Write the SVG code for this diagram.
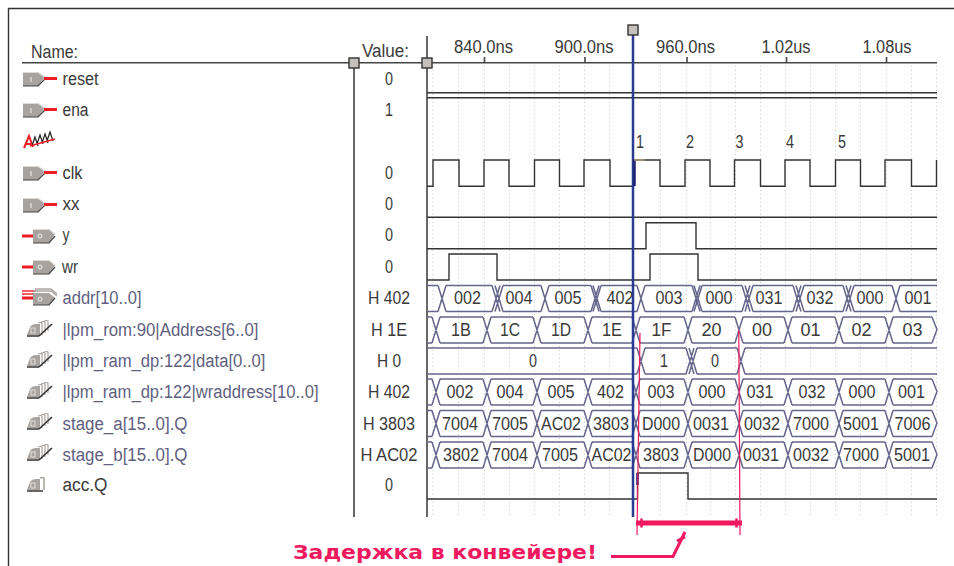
<svg xmlns="http://www.w3.org/2000/svg" width="954" height="566" viewBox="0 0 954 566">
<style>
text{font-family:"Liberation Sans",Arial,sans-serif;font-size:18px;fill:#3a3a3a}
.s{fill:#5f5f80}
.v{text-anchor:middle}
.t{text-anchor:middle}
.w{fill:none;stroke:#333;stroke-width:1.4}
.b{fill:none;stroke:#66668c;stroke-width:1.5}
.g{fill:none;stroke:#c9c9c9;stroke-width:1;stroke-dasharray:1 3}
.a{fill:none;stroke:#444;stroke-width:1.6}
.r{fill:none;stroke:#f0185e;stroke-width:1.2}
.h{fill:#c4c0bc;stroke:#333;stroke-width:1.4}
</style>
<defs>
<g id="pin-in"><path d="M0 -7H15L22 -2L15 7H0z" fill="#a8a39e"/><path d="M0 -6.500H15L21 -2" fill="none" stroke="#dedad6"/><path d="M0 7H15L22 0" fill="none" stroke="#444" stroke-width="1.200"/><path d="M21 -.5H34" stroke="#ee1c25" stroke-width="3"/><path d="M8 -2V3" stroke="#eee"/></g>
<g id="pin-out"><path d="M0 0H11" stroke="#ee1c25" stroke-width="3"/><path d="M11 -7H27L33 -2L27 7H11z" fill="#a8a39e"/><path d="M11 -6.500H27L32 -2" fill="none" stroke="#dedad6"/><path d="M11 7H27L33 0" fill="none" stroke="#444" stroke-width="1.200"/><circle cx="18" cy="0" r="2" fill="none" stroke="#eee"/></g>
<g id="pin-bus"><path d="M0 -7H14M0 -4H12" stroke="#ee1c25" stroke-width="2" opacity=".7"/><path d="M0 0H11" stroke="#ee1c25" stroke-width="3"/><path d="M13 -9H29L35 -4M11 -7H29L35 -2" fill="none" stroke="#aaa6a2" stroke-width="1.400"/><path d="M11 -5H27L33 0L27 7H11z" fill="#a8a39e"/><path d="M11 7H27L33 0" fill="none" stroke="#444" stroke-width="1.200"/><circle cx="18" cy="1" r="2" fill="none" stroke="#eee"/></g>
<g id="bur"><path d="M0 6L3 -2Q5 -5 9 -5H13V6z" fill="#a8a39e"/><path d="M0 7H12" stroke="#333" stroke-width="1.500"/><rect x="4" y="-1" width="4" height="5" fill="none" stroke="#eee" stroke-width=".8"/><path d="M11 -6Q14 -7 15 -6V6M14 -7Q17 -8 18 -7V4M17 -8Q20 -9 21 -8V2" fill="none" stroke="#a8a39e" stroke-width="1.200"/><path d="M12 7L25 -5" stroke="#333" stroke-width="1.600"/></g>
<g id="bur1"><path d="M0 6L3 -2Q5 -5 9 -5H13V6z" fill="#a8a39e"/><path d="M0 7H16" stroke="#333" stroke-width="1.500"/><rect x="4" y="-1" width="4" height="5" fill="none" stroke="#eee" stroke-width=".8"/><path d="M13 -6Q16 -7 17 -6V6" fill="none" stroke="#a8a39e" stroke-width="1.600"/></g>
<path id="bus" class="b" d="M427 .5H432M427 26.5H432M432 .5L440 26.5M432 26.5L440 .5M440 .5H483M440 26.5H483M483 .5L491 26.5M483 26.5L491 .5M491 .5H533M491 26.5H533M533 .5L541 26.5M533 26.5L541 .5M541 .5H584M541 26.5H584M584 .5L592 26.5M584 26.5L592 .5M592 .5H632M592 26.5H632M632 .5L640 26.5M632 26.5L640 .5M640 .5H684M640 26.5H684M684 .5L692 26.5M684 26.5L692 .5M692 .5H735M692 26.5H735M735 .5L743 26.5M735 26.5L743 .5M743 .5H784M743 26.5H784M784 .5L792 26.5M784 26.5L792 .5M792 .5H835M792 26.5H835M835 .5L843 26.5M835 26.5L843 .5M843 .5H885M843 26.5H885M885 .5L893 26.5M885 26.5L893 .5M893 .5H932M893 26.5H932M932 .5L937 13L932 26.5"/>
</defs>
<path d="M954 8.500H8.500V566" stroke="#333" stroke-width="1.400" fill="none"/>

<g id="grid"><path class="g" d="M433 66V516M458.500 66V516M484.500 66V516M509.500 66V516M534.500 66V516M559.500 66V516M584.500 66V516M609.500 66V516M660.500 66V516M686.500 66V516M710.500 66V516M735.500 66V516M760.500 66V516M785.500 66V516M810.500 66V516M835.500 66V516M860.500 66V516M886.500 66V516M911.500 66V516M936.500 66V516"/></g>

<g id="header">
<text x="31" y="58" textLength="47" lengthAdjust="spacingAndGlyphs">Name:</text>
<text x="362" y="57" textLength="47" lengthAdjust="spacingAndGlyphs">Value:</text>
<path class="a" d="M22 62.700H937M354 63V517M427 36V517"/>
<path class="a" d="M484.500 57V63M585 57V63M687 57V63M786.500 57V63M886.500 57V63"/>
<text class="t" x="483.500" y="53" textLength="59" lengthAdjust="spacingAndGlyphs">840.0ns</text>
<text class="t" x="584" y="53" textLength="59" lengthAdjust="spacingAndGlyphs">900.0ns</text>
<text class="t" x="685.500" y="53" textLength="59" lengthAdjust="spacingAndGlyphs">960.0ns</text>
<text class="t" x="786" y="53" textLength="49" lengthAdjust="spacingAndGlyphs">1.02us</text>
<text class="t" x="887" y="53" textLength="49" lengthAdjust="spacingAndGlyphs">1.08us</text>
<rect class="h" x="349" y="58" width="10" height="10"/>
<rect class="h" x="422" y="58" width="10" height="10"/>
</g>

<g id="node-reset"><use href="#pin-in" x="23" y="79"/><text x="62.500" y="85" textLength="36" lengthAdjust="spacingAndGlyphs">reset</text><text class="v" x="389" y="85" textLength="8" lengthAdjust="spacingAndGlyphs">0</text><path class="w" d="M427 92.700H937"/></g>
<g id="node-ena"><use href="#pin-in" x="23" y="110"/><text x="62.500" y="116" textLength="26" lengthAdjust="spacingAndGlyphs">ena</text><text class="v" x="389" y="116" textLength="8" lengthAdjust="spacingAndGlyphs">1</text><path class="w" d="M427 97.700H937"/></g>
<g id="node-markers"><path d="M24 148L29 136L33 147M26 144H31" fill="none" stroke="#ee1c25" stroke-width="2"/><path d="M32 146L35 137L38 146M37 144L40 135L43 144M42 143L45 134L48 143M47 141L50 132L53 141" fill="none" stroke="#222" stroke-width="1.200"/><path d="M30 146L55 139" stroke="#ee1c25" stroke-width="1.400"/>
<text class="v" x="640" y="148" textLength="8" lengthAdjust="spacingAndGlyphs">1</text><text class="v" x="690" y="148" textLength="8" lengthAdjust="spacingAndGlyphs">2</text><text class="v" x="739.500" y="148" textLength="8" lengthAdjust="spacingAndGlyphs">3</text><text class="v" x="790" y="148" textLength="8" lengthAdjust="spacingAndGlyphs">4</text><text class="v" x="842" y="148" textLength="8" lengthAdjust="spacingAndGlyphs">5</text></g>
<g id="node-clk"><use href="#pin-in" x="23" y="173"/><text x="62.500" y="179" textLength="20" lengthAdjust="spacingAndGlyphs">clk</text><text class="v" x="389" y="179" textLength="8" lengthAdjust="spacingAndGlyphs">0</text>
<path class="w" d="M427 186.300H433V160H459V186.300H484V160H509V186.300H534.500V160H559.500V186.300H584V160H610V186.300H633.500V160H660V186.300H685V160H710V186.300H734.500V160H760.500V186.300H785V160H810V186.300H835.500V160H860.500V186.300H885V160H911.500V186.300H936.500V160"/></g>
<g id="node-xx"><use href="#pin-in" x="23" y="205"/><text x="62.500" y="210" textLength="17" lengthAdjust="spacingAndGlyphs">xx</text><text class="v" x="389" y="210" textLength="8" lengthAdjust="spacingAndGlyphs">0</text><path class="w" d="M427 217.300H937"/></g>
<g id="node-y"><use href="#pin-out" x="22" y="236"/><text x="62.500" y="241" textLength="7" lengthAdjust="spacingAndGlyphs">y</text><text class="v" x="389" y="241" textLength="8" lengthAdjust="spacingAndGlyphs">0</text><path class="w" d="M427 248.700H646V222.700H696V248.700H937"/></g>
<g id="node-wr"><use href="#pin-out" x="22" y="267"/><text x="62" y="273" textLength="16" lengthAdjust="spacingAndGlyphs">wr</text><text class="v" x="389" y="273" textLength="8" lengthAdjust="spacingAndGlyphs">0</text><path class="w" d="M427 280H449V254H497V280H650V254H698V280H937"/></g>

<g id="node-addr"><use href="#pin-bus" x="22" y="298"/><text class="s" x="62.500" y="304" textLength="79" lengthAdjust="spacingAndGlyphs">addr[10..0]</text><text class="v" x="389" y="304" textLength="42" lengthAdjust="spacingAndGlyphs">H 402</text>
<path class="b" d="M427 285.500H438M427 311.500H438M438 285.500L446 311.500M438 311.500L446 285.500M446 285.500H492M446 311.500H492M492 285.500L500 311.500M492 311.500L500 285.500M495 285.500L503 311.500M495 311.500L503 285.500M503 285.500H541M503 311.500H541M541 285.500L549 311.500M541 311.500L549 285.500M549 285.500H591M549 311.500H591M591 285.500L599 311.500M591 311.500L599 285.500M593 285.500L601 311.500M593 311.500L601 285.500M601 285.500H637M601 311.500H637M637 285.500L645 311.500M637 311.500L645 285.500M645 285.500H692M645 311.500H692M692 285.500L700 311.500M692 311.500L700 285.500M694 285.500L702 311.500M694 311.500L702 285.500M702 285.500H742M702 311.500H742M742 285.500L750 311.500M742 311.500L750 285.500M745 285.500L753 311.500M745 311.500L753 285.500M753 285.500H793M753 311.500H793M793 285.500L801 311.500M793 311.500L801 285.500M796 285.500L804 311.500M796 311.500L804 285.500M804 285.500H843M804 311.500H843M843 285.500L851 311.500M843 311.500L851 285.500M846 285.500L854 311.500M846 311.500L854 285.500M854 285.500H892M854 311.500H892M892 285.500L900 311.500M892 311.500L900 285.500M900 285.500H937M900 311.500H937"/>
<text class="v" x="467.500" y="304" textLength="27" lengthAdjust="spacingAndGlyphs">002</text><text class="v" x="519" y="304" textLength="27" lengthAdjust="spacingAndGlyphs">004</text><text class="v" x="568" y="304" textLength="27" lengthAdjust="spacingAndGlyphs">005</text><text class="v" x="620" y="304" textLength="27" lengthAdjust="spacingAndGlyphs">402</text><text class="v" x="669" y="304" textLength="27" lengthAdjust="spacingAndGlyphs">003</text><text class="v" x="719" y="304" textLength="27" lengthAdjust="spacingAndGlyphs">000</text><text class="v" x="769" y="304" textLength="27" lengthAdjust="spacingAndGlyphs">031</text><text class="v" x="820" y="304" textLength="27" lengthAdjust="spacingAndGlyphs">032</text><text class="v" x="870" y="304" textLength="27" lengthAdjust="spacingAndGlyphs">000</text><text class="v" x="918" y="304" textLength="27" lengthAdjust="spacingAndGlyphs">001</text></g>

<g id="node-rom"><use href="#bur" x="27" y="329"/><text class="s" x="62.500" y="336" textLength="196" lengthAdjust="spacingAndGlyphs">|lpm_rom:90|Address[6..0]</text><text class="v" x="389" y="336" textLength="36" lengthAdjust="spacingAndGlyphs">H 1E</text>
<use href="#bus" y="316.500"/>
<text class="v" x="461" y="336" textLength="20" lengthAdjust="spacingAndGlyphs">1B</text><text class="v" x="510" y="336" textLength="20" lengthAdjust="spacingAndGlyphs">1C</text><text class="v" x="561" y="336" textLength="20" lengthAdjust="spacingAndGlyphs">1D</text><text class="v" x="612" y="336" textLength="20" lengthAdjust="spacingAndGlyphs">1E</text><text class="v" x="661.500" y="336" textLength="20" lengthAdjust="spacingAndGlyphs">1F</text><text class="v" x="711.500" y="336" textLength="20" lengthAdjust="spacingAndGlyphs">20</text><text class="v" x="762" y="336" textLength="20" lengthAdjust="spacingAndGlyphs">00</text><text class="v" x="810.500" y="336" textLength="20" lengthAdjust="spacingAndGlyphs">01</text><text class="v" x="861.500" y="336" textLength="20" lengthAdjust="spacingAndGlyphs">02</text><text class="v" x="912.500" y="336" textLength="20" lengthAdjust="spacingAndGlyphs">03</text></g>

<g id="node-data"><use href="#bur" x="27" y="360"/><text class="s" x="62.500" y="367" textLength="203" lengthAdjust="spacingAndGlyphs">|lpm_ram_dp:122|data[0..0]</text><text class="v" x="389" y="367" textLength="24" lengthAdjust="spacingAndGlyphs">H 0</text>
<path class="b" d="M427 348H637M427 374H637M637 348L645 374M637 374L645 348M645 348H686M645 374H686M686 348L694 374M686 374L694 348M689 348L697 374M689 374L697 348M697 348H737M697 374H737M737 348L745 374M737 374L745 348M745 348H937M745 374H937"/>
<text class="v" x="533" y="367" textLength="8" lengthAdjust="spacingAndGlyphs">0</text><text class="v" x="664" y="367" textLength="8" lengthAdjust="spacingAndGlyphs">1</text><text class="v" x="715" y="367" textLength="8" lengthAdjust="spacingAndGlyphs">0</text></g>

<g id="node-wraddr"><use href="#bur" x="27" y="391"/><text class="s" x="62.500" y="398" textLength="256" lengthAdjust="spacingAndGlyphs">|lpm_ram_dp:122|wraddress[10..0]</text><text class="v" x="389" y="398" textLength="42" lengthAdjust="spacingAndGlyphs">H 402</text>
<use href="#bus" y="378.500"/>
<text class="v" x="460" y="398" textLength="27" lengthAdjust="spacingAndGlyphs">002</text><text class="v" x="510" y="398" textLength="27" lengthAdjust="spacingAndGlyphs">004</text><text class="v" x="561" y="398" textLength="27" lengthAdjust="spacingAndGlyphs">005</text><text class="v" x="610.500" y="398" textLength="27" lengthAdjust="spacingAndGlyphs">402</text><text class="v" x="661" y="398" textLength="27" lengthAdjust="spacingAndGlyphs">003</text><text class="v" x="712" y="398" textLength="27" lengthAdjust="spacingAndGlyphs">000</text><text class="v" x="760" y="398" textLength="27" lengthAdjust="spacingAndGlyphs">031</text><text class="v" x="812" y="398" textLength="27" lengthAdjust="spacingAndGlyphs">032</text><text class="v" x="862" y="398" textLength="27" lengthAdjust="spacingAndGlyphs">000</text><text class="v" x="911.500" y="398" textLength="27" lengthAdjust="spacingAndGlyphs">001</text></g>

<g id="node-stage-a"><use href="#bur" x="27" y="422"/><text class="s" x="62.500" y="430" textLength="125" lengthAdjust="spacingAndGlyphs">stage_a[15..0].Q</text><text class="v" x="389" y="430" textLength="52" lengthAdjust="spacingAndGlyphs">H 3803</text>
<use href="#bus" y="410"/>
<text class="v" x="460" y="429.500" textLength="36" lengthAdjust="spacingAndGlyphs">7004</text><text class="v" x="510" y="429.500" textLength="36" lengthAdjust="spacingAndGlyphs">7005</text><text class="v" x="561" y="429.500" textLength="40" lengthAdjust="spacingAndGlyphs">AC02</text><text class="v" x="611" y="429.500" textLength="36" lengthAdjust="spacingAndGlyphs">3803</text><text class="v" x="661" y="429.500" textLength="38" lengthAdjust="spacingAndGlyphs">D000</text><text class="v" x="711" y="429.500" textLength="36" lengthAdjust="spacingAndGlyphs">0031</text><text class="v" x="762" y="429.500" textLength="36" lengthAdjust="spacingAndGlyphs">0032</text><text class="v" x="811" y="429.500" textLength="36" lengthAdjust="spacingAndGlyphs">7000</text><text class="v" x="861" y="429.500" textLength="36" lengthAdjust="spacingAndGlyphs">5001</text><text class="v" x="912.500" y="429.500" textLength="36" lengthAdjust="spacingAndGlyphs">7006</text></g>

<g id="node-stage-b"><use href="#bur" x="27" y="453"/><text class="s" x="62.500" y="461" textLength="125" lengthAdjust="spacingAndGlyphs">stage_b[15..0].Q</text><text class="v" x="389" y="461" textLength="57" lengthAdjust="spacingAndGlyphs">H AC02</text>
<use href="#bus" y="441.500"/>
<text class="v" x="461" y="461" textLength="36" lengthAdjust="spacingAndGlyphs">3802</text><text class="v" x="510" y="461" textLength="36" lengthAdjust="spacingAndGlyphs">7004</text><text class="v" x="560" y="461" textLength="36" lengthAdjust="spacingAndGlyphs">7005</text><text class="v" x="611.500" y="461" textLength="40" lengthAdjust="spacingAndGlyphs">AC02</text><text class="v" x="661" y="461" textLength="36" lengthAdjust="spacingAndGlyphs">3803</text><text class="v" x="712" y="461" textLength="38" lengthAdjust="spacingAndGlyphs">D000</text><text class="v" x="761" y="461" textLength="36" lengthAdjust="spacingAndGlyphs">0031</text><text class="v" x="811" y="461" textLength="36" lengthAdjust="spacingAndGlyphs">0032</text><text class="v" x="861" y="461" textLength="36" lengthAdjust="spacingAndGlyphs">7000</text><text class="v" x="912" y="461" textLength="36" lengthAdjust="spacingAndGlyphs">5001</text></g>

<g id="node-acc"><use href="#bur1" x="27" y="484"/><text x="62.500" y="491" textLength="45" lengthAdjust="spacingAndGlyphs">acc.Q</text><text class="v" x="389" y="491" textLength="8" lengthAdjust="spacingAndGlyphs">0</text>
<path class="w" d="M427 499H637.500V473H688V499H937"/></g>

<g id="connectors">
<path d="M633 35V517" stroke="#2b3a92" stroke-width="2.500" fill="none"/>
<path d="M634.500 160V186M637.500 473V485" stroke="#1d2470" stroke-width="2.500" fill="none"/>
<path d="M634 160H645" stroke="#c4a870" stroke-width="1.200" fill="none"/>
<path class="r" d="M640 333L637 535M738.800 330L740 535"/>
<path d="M636 523H742" fill="none" stroke="#f0185e" stroke-width="5"/>
<path d="M641.500 518.500V527.500M736.500 518.500V527.500" fill="none" stroke="#f0185e" stroke-width="2.500"/>
<path d="M611 556.500H673L685 532" fill="none" stroke="#f0185e" stroke-width="3"/>
<path d="M677 541L685 537" stroke="#f0185e" stroke-width="3" fill="none"/>
</g>
<rect class="h" x="628" y="25" width="10" height="10"/>
<text id="delay-label" x="293" y="559" textLength="304" lengthAdjust="spacingAndGlyphs" style="font-family:'DejaVu Sans',sans-serif;font-size:20px;font-weight:bold;fill:#f0185e">Задержка в конвейере!</text>
</svg>
